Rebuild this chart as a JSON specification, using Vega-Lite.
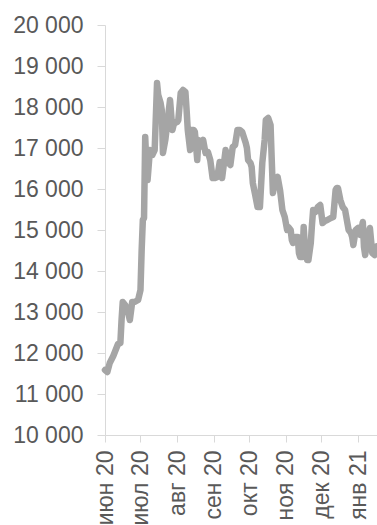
{
  "$schema": "https://vega.github.io/schema/vega-lite/v6.json",
  "width": 272,
  "height": 410,
  "autosize": {"type": "none"},
  "padding": {"left": 105, "top": 25, "right": 0, "bottom": 90},
  "background": "white",
  "config": {
    "view": {"stroke": null},
    "font": "Liberation Sans",
    "axis": {"grid": false, "domainColor": "#d9d9d9", "tickColor": "#d9d9d9", "labelColor": "#595959", "labelFont": "Liberation Sans", "labelFontSize": 23, "title": null}
  },
  "data": {"values": [
    {"date": "2020-06-01", "value": 11585},
    {"date": "2020-06-03", "value": 11537},
    {"date": "2020-06-05", "value": 11756},
    {"date": "2020-06-08", "value": 11927},
    {"date": "2020-06-10", "value": 12073},
    {"date": "2020-06-12", "value": 12220},
    {"date": "2020-06-14", "value": 12244},
    {"date": "2020-06-15", "value": 12805},
    {"date": "2020-06-16", "value": 13244},
    {"date": "2020-06-18", "value": 13171},
    {"date": "2020-06-20", "value": 13049},
    {"date": "2020-06-22", "value": 12805},
    {"date": "2020-06-24", "value": 13244},
    {"date": "2020-06-26", "value": 13244},
    {"date": "2020-06-29", "value": 13293},
    {"date": "2020-07-01", "value": 13537},
    {"date": "2020-07-02", "value": 14512},
    {"date": "2020-07-03", "value": 15244},
    {"date": "2020-07-04", "value": 15293},
    {"date": "2020-07-05", "value": 17268},
    {"date": "2020-07-06", "value": 16585},
    {"date": "2020-07-07", "value": 16220},
    {"date": "2020-07-09", "value": 16951},
    {"date": "2020-07-11", "value": 16829},
    {"date": "2020-07-13", "value": 16951},
    {"date": "2020-07-15", "value": 18585},
    {"date": "2020-07-16", "value": 18293},
    {"date": "2020-07-18", "value": 18098},
    {"date": "2020-07-19", "value": 17927},
    {"date": "2020-07-20", "value": 16878},
    {"date": "2020-07-22", "value": 17195},
    {"date": "2020-07-23", "value": 17439},
    {"date": "2020-07-26", "value": 18171},
    {"date": "2020-07-28", "value": 17439},
    {"date": "2020-07-29", "value": 17561},
    {"date": "2020-07-30", "value": 17610},
    {"date": "2020-08-01", "value": 17634},
    {"date": "2020-08-02", "value": 17683},
    {"date": "2020-08-04", "value": 18341},
    {"date": "2020-08-06", "value": 18415},
    {"date": "2020-08-08", "value": 18366},
    {"date": "2020-08-09", "value": 17927},
    {"date": "2020-08-10", "value": 17439},
    {"date": "2020-08-12", "value": 16951},
    {"date": "2020-08-13", "value": 17439},
    {"date": "2020-08-15", "value": 17439},
    {"date": "2020-08-16", "value": 17390},
    {"date": "2020-08-18", "value": 16707},
    {"date": "2020-08-19", "value": 17195},
    {"date": "2020-08-20", "value": 17024},
    {"date": "2020-08-23", "value": 17195},
    {"date": "2020-08-25", "value": 16878},
    {"date": "2020-08-27", "value": 16902},
    {"date": "2020-08-29", "value": 16707},
    {"date": "2020-08-31", "value": 16268},
    {"date": "2020-09-02", "value": 16268},
    {"date": "2020-09-04", "value": 16293},
    {"date": "2020-09-06", "value": 16659},
    {"date": "2020-09-08", "value": 16268},
    {"date": "2020-09-11", "value": 16951},
    {"date": "2020-09-13", "value": 16659},
    {"date": "2020-09-15", "value": 16585},
    {"date": "2020-09-17", "value": 17024},
    {"date": "2020-09-19", "value": 17073},
    {"date": "2020-09-21", "value": 17439},
    {"date": "2020-09-23", "value": 17439},
    {"date": "2020-09-25", "value": 17390},
    {"date": "2020-09-28", "value": 17122},
    {"date": "2020-09-29", "value": 17000},
    {"date": "2020-09-30", "value": 16707},
    {"date": "2020-10-02", "value": 16634},
    {"date": "2020-10-03", "value": 16537},
    {"date": "2020-10-04", "value": 16146},
    {"date": "2020-10-06", "value": 15854},
    {"date": "2020-10-08", "value": 15561},
    {"date": "2020-10-10", "value": 15561},
    {"date": "2020-10-12", "value": 16634},
    {"date": "2020-10-14", "value": 17195},
    {"date": "2020-10-15", "value": 17683},
    {"date": "2020-10-17", "value": 17732},
    {"date": "2020-10-19", "value": 17561},
    {"date": "2020-10-20", "value": 16707},
    {"date": "2020-10-21", "value": 15902},
    {"date": "2020-10-23", "value": 16220},
    {"date": "2020-10-25", "value": 16293},
    {"date": "2020-10-27", "value": 15976},
    {"date": "2020-10-29", "value": 15488},
    {"date": "2020-10-31", "value": 15317},
    {"date": "2020-11-02", "value": 15000},
    {"date": "2020-11-03", "value": 15073},
    {"date": "2020-11-05", "value": 15000},
    {"date": "2020-11-06", "value": 14756},
    {"date": "2020-11-07", "value": 14683},
    {"date": "2020-11-09", "value": 14829},
    {"date": "2020-11-11", "value": 14829},
    {"date": "2020-11-12", "value": 14439},
    {"date": "2020-11-13", "value": 14342},
    {"date": "2020-11-15", "value": 14342},
    {"date": "2020-11-16", "value": 15073},
    {"date": "2020-11-17", "value": 14585},
    {"date": "2020-11-19", "value": 14268},
    {"date": "2020-11-20", "value": 14268},
    {"date": "2020-11-22", "value": 14683},
    {"date": "2020-11-23", "value": 15122},
    {"date": "2020-11-24", "value": 15488},
    {"date": "2020-11-26", "value": 15439},
    {"date": "2020-11-28", "value": 15561},
    {"date": "2020-11-30", "value": 15610},
    {"date": "2020-12-02", "value": 15171},
    {"date": "2020-12-04", "value": 15220},
    {"date": "2020-12-06", "value": 15244},
    {"date": "2020-12-09", "value": 15293},
    {"date": "2020-12-11", "value": 15317},
    {"date": "2020-12-13", "value": 15976},
    {"date": "2020-12-14", "value": 16024},
    {"date": "2020-12-15", "value": 16024},
    {"date": "2020-12-17", "value": 15732},
    {"date": "2020-12-19", "value": 15561},
    {"date": "2020-12-21", "value": 15488},
    {"date": "2020-12-24", "value": 15000},
    {"date": "2020-12-26", "value": 14927},
    {"date": "2020-12-27", "value": 14829},
    {"date": "2020-12-28", "value": 14634},
    {"date": "2020-12-30", "value": 15000},
    {"date": "2021-01-01", "value": 15049},
    {"date": "2021-01-03", "value": 14878},
    {"date": "2021-01-05", "value": 15195},
    {"date": "2021-01-06", "value": 14585},
    {"date": "2021-01-07", "value": 14390},
    {"date": "2021-01-10", "value": 14927},
    {"date": "2021-01-11", "value": 15049},
    {"date": "2021-01-13", "value": 14439},
    {"date": "2021-01-15", "value": 14390},
    {"date": "2021-01-17", "value": 14600}
  ]},
  "mark": {"type": "line", "stroke": "#a5a5a5", "strokeWidth": 6.5, "strokeJoin": "round", "strokeCap": "round"},
  "encoding": {
    "x": {
      "field": "date", "type": "temporal",
      "scale": {"type": "utc", "domain": [{"year": 2020, "month": 6, "date": 1, "utc": true}, {"year": 2021, "month": 1, "date": 17, "utc": true}]},
      "axis": {
        "values": [
          {"year": 2020, "month": 6, "date": 1, "utc": true},
          {"year": 2020, "month": 7, "date": 1, "utc": true},
          {"year": 2020, "month": 8, "date": 1, "utc": true},
          {"year": 2020, "month": 9, "date": 1, "utc": true},
          {"year": 2020, "month": 10, "date": 1, "utc": true},
          {"year": 2020, "month": 11, "date": 1, "utc": true},
          {"year": 2020, "month": 12, "date": 1, "utc": true},
          {"year": 2021, "month": 1, "date": 1, "utc": true}
        ],
        "labelAngle": 270,
        "labelOverlap": false,
        "labelFlush": false,
        "tickSize": 7,
        "labelPadding": 8,
        "labelExpr": "['янв','фев','мар','апр','май','июн','июл','авг','сен','окт','ноя','дек'][utcmonth(datum.value)] + ' ' + utcFormat(datum.value, '%y')"
      }
    },
    "y": {
      "field": "value", "type": "quantitative",
      "scale": {"domain": [10000, 20000], "nice": false, "zero": false},
      "axis": {
        "values": [10000, 11000, 12000, 13000, 14000, 15000, 16000, 17000, 18000, 19000, 20000],
        "tickSize": 8,
        "labelPadding": 14,
        "labelFlush": false,
        "labelOverlap": false,
        "labelExpr": "replace(format(datum.value, ','), ',', ' ')"
      }
    }
  }
}
